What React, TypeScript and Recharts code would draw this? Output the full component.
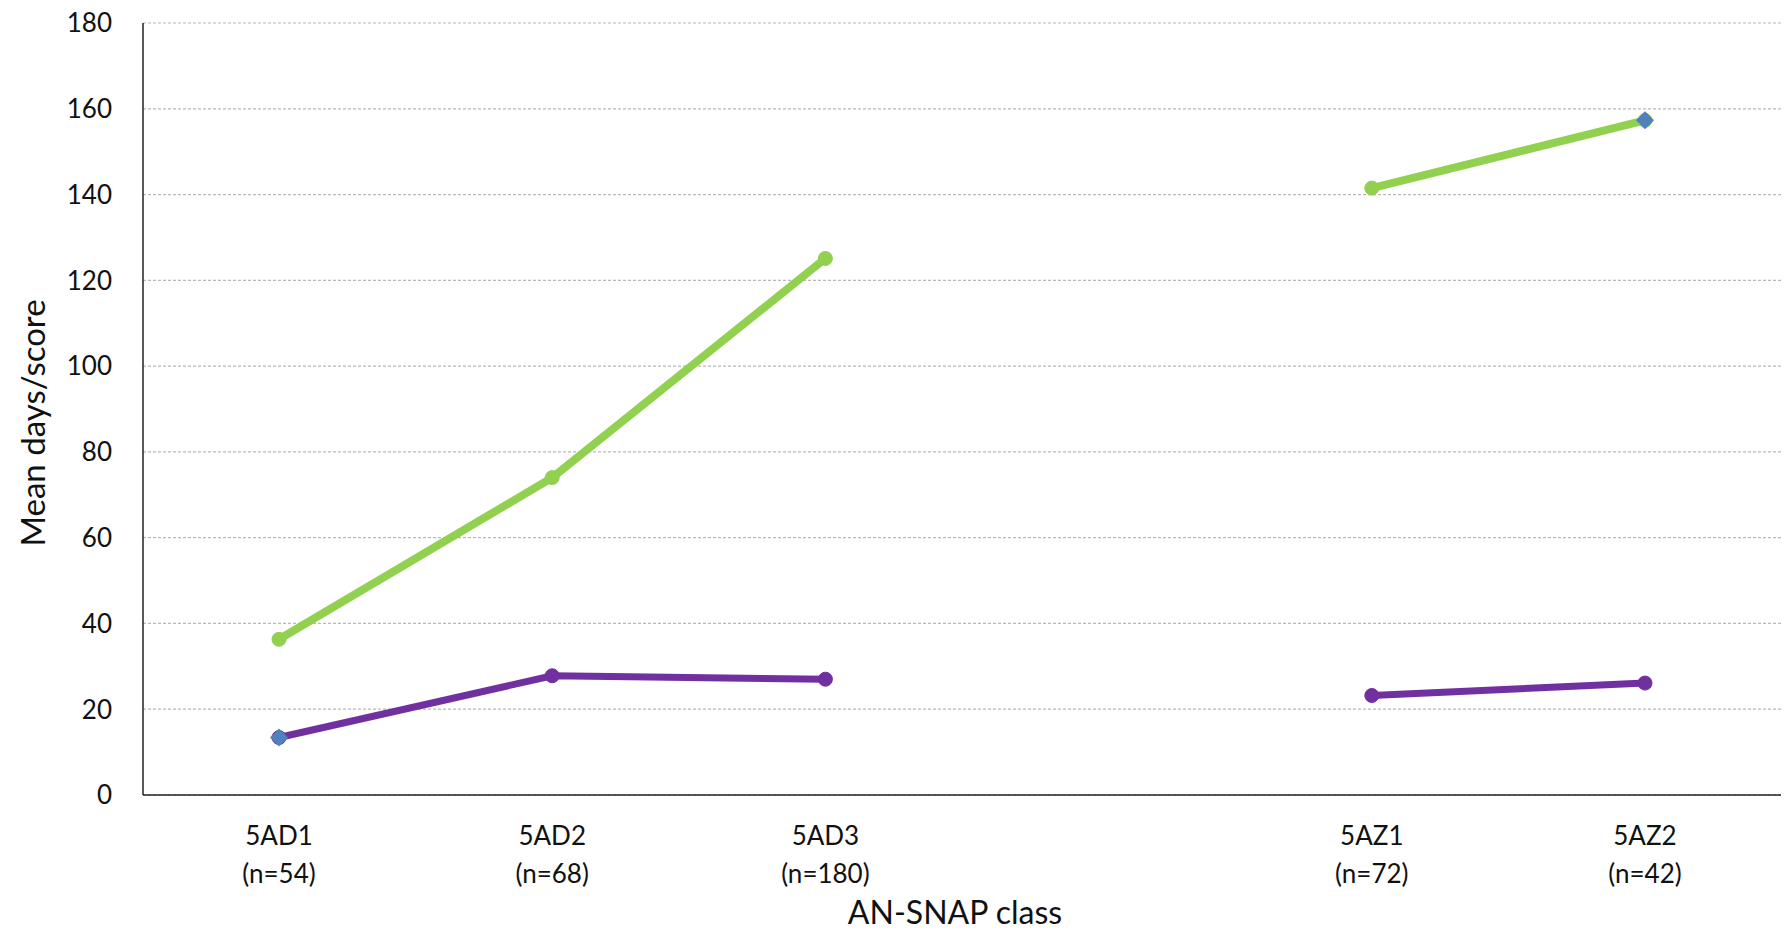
import { LineChart, Line, XAxis, YAxis, CartesianGrid } from "recharts";

const classes = ["5AD1", "5AD2", "5AD3", "", "5AZ1", "5AZ2"];
const counts = ["(n=54)", "(n=68)", "(n=180)", "", "(n=72)", "(n=42)"];
const greenValues = [36.3, 74.0, 125.1, null, 141.5, 157.3];
const purpleValues = [13.4, 27.8, 27.0, null, 23.2, 26.1];
const diamondValues = [13.4, null, null, null, null, 157.3];
const yTicks = [0, 20, 40, 60, 80, 100, 120, 140, 160, 180];

const data = classes.map((name, i) => ({
  name,
  count: counts[i],
  green: greenValues[i],
  purple: purpleValues[i],
  diamond: diamondValues[i],
}));

const FONT = "Lato, 'Noto Sans', sans-serif";

const XTick = (props: any) => {
  const { x, y, payload, index } = props;
  if (!payload.value) return <g />;
  return (
    <g>
      <text x={x} y={y + 42} textAnchor="middle" fontSize={26} fontFamily={FONT} fill="#111">
        {payload.value}
      </text>
      <text x={x} y={y + 80} textAnchor="middle" fontSize={26} fontFamily={FONT} fill="#111">
        {counts[index]}
      </text>
    </g>
  );
};

const YTick = (props: any) => {
  const { y, payload } = props;
  return (
    <text x={112} y={y} dy="0.36em" textAnchor="end" fontSize={26} fontFamily={FONT} fill="#111">
      {payload.value}
    </text>
  );
};

const Diamond = (props: any) => {
  const { cx, cy } = props;
  if (cx == null || cy == null) return <g key={props.key} />;
  const r = 9;
  return (
    <polygon
      key={props.key}
      points={`${cx},${cy - r} ${cx + r},${cy} ${cx},${cy + r} ${cx - r},${cy}`}
      fill="#4F81BD"
    />
  );
};

export default function App() {
  return (
    <div style={{ position: "absolute", left: 0, top: 0, background: "#fff" }}>
      <LineChart
        width={1787}
        height={930}
        data={data}
        margin={{ top: 23, right: 6, bottom: 0, left: 0 }}
      >
        <CartesianGrid
          vertical={false}
          stroke="#b8b8b8"
          strokeDasharray="3 2"
          strokeWidth={1.2}
        />
        <XAxis
          dataKey="name"
          height={135}
          padding={{ left: 136, right: 136 }}
          stroke="#222"
          strokeWidth={1.5}
          tickLine={false}
          interval={0}
          tick={<XTick />}
        />
        <YAxis
          width={143}
          domain={[0, 180]}
          ticks={yTicks}
          stroke="#222"
          strokeWidth={1.5}
          tickLine={false}
          tick={<YTick />}
        />
        <Line
          dataKey="green"
          stroke="#92D050"
          strokeWidth={8}
          dot={{ r: 7, fill: "#92D050", stroke: "#92D050", strokeWidth: 1 }}
          activeDot={false}
          isAnimationActive={false}
        />
        <Line
          dataKey="purple"
          stroke="#7030A0"
          strokeWidth={7}
          dot={{ r: 7, fill: "#7030A0", stroke: "#7030A0", strokeWidth: 1 }}
          activeDot={false}
          isAnimationActive={false}
        />
        <Line
          dataKey="diamond"
          stroke="none"
          dot={<Diamond />}
          activeDot={false}
          isAnimationActive={false}
        />
      </LineChart>
      <div
        style={{
          position: "absolute",
          left: 955,
          top: 911,
          transform: "translate(-50%, -50%)",
          fontSize: 32,
          fontFamily: FONT,
          color: "#111",
          whiteSpace: "nowrap",
        }}
      >
        AN-SNAP class
      </div>
      <div
        style={{
          position: "absolute",
          left: 32,
          top: 423,
          transform: "translate(-50%, -50%) rotate(-90deg)",
          fontSize: 33,
          fontFamily: FONT,
          color: "#111",
          whiteSpace: "nowrap",
        }}
      >
        Mean days/score
      </div>
    </div>
  );
}
